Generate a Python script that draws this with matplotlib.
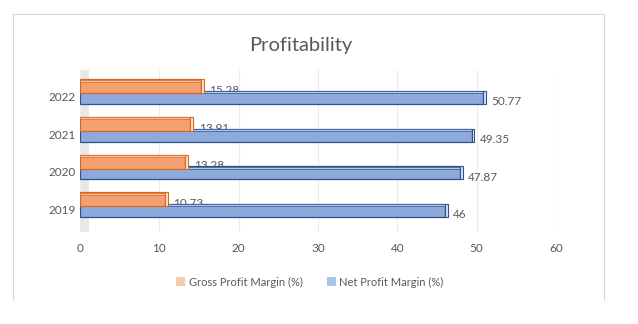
import matplotlib.pyplot as plt
from matplotlib.patches import Patch
import numpy as np

# data
years = ['2019', '2020', '2021', '2022']
gross = [10.73, 13.28, 13.91, 15.28]
net = [46, 47.87, 49.35, 50.77]
gross_lbl = ['10.73', '13.28', '13.91', '15.28']
net_lbl = ['46', '47.87', '49.35', '50.77']
xticks = [0, 10, 20, 30, 40, 50, 60]

plt.rcParams['font.family'] = ['Lato', 'DejaVu Sans']
txt = '#595959'

fig = plt.figure(figsize=(6.38, 3.24), dpi=100)
ax = fig.add_axes([80/638, (324-232)/324, 476/638, 162/324])

y = np.arange(len(years))
h_o, h_b = 0.37, 0.35
yo = y + 0.15
yb = y - 0.15

# side wall of the 3d chart
ax.axvspan(0, 1.1, color='#e8e8e8', lw=0, zorder=1)

# bars (front faces)
ax.barh(yo, gross, height=h_o, color='#F4A172', edgecolor='#D9671F', linewidth=0.9, zorder=3)
ax.barh(yb, net, height=h_b, color='#8EAADB', edgecolor='#2F528F', linewidth=0.9, zorder=2)
# thin lighter top face to fake the 3d look
ax.barh(yo + h_o*0.39, gross, height=h_o*0.14, color='#F8C3A0', edgecolor='#D9671F', linewidth=0.5, zorder=3)
ax.barh(yb + h_b*0.39, net, height=h_b*0.14, color='#B4C7E7', edgecolor='#2F528F', linewidth=0.5, zorder=2)

# end caps
ax.barh(yo, [0.35]*4, left=gross, height=h_o, color='#FBE5D6', edgecolor='#D9671F', linewidth=0.8, zorder=3)
ax.barh(yb, [0.35]*4, left=net, height=h_b, color='#DAE3F3', edgecolor='#2F528F', linewidth=0.8, zorder=2)

for i in range(len(years)):
    ax.annotate(gross_lbl[i], (gross[i], yo[i]), xytext=(6, -3), textcoords='offset points',
                va='center', ha='left', fontsize=8.5, color=txt, zorder=1)
    ax.annotate(net_lbl[i], (net[i], yb[i]), xytext=(6, -3), textcoords='offset points',
                va='center', ha='left', fontsize=8.5, color=txt)

ax.set_xlim(0, 60)
ax.set_ylim(-0.72, 3.58)
ax.set_xticks(xticks)
ax.set_yticks(y - 0.12)
ax.set_yticklabels(years)
ax.tick_params(axis='both', length=0, labelsize=8.5, colors=txt)
ax.tick_params(axis='x', pad=8)
ax.tick_params(axis='y', pad=3)
ax.grid(axis='x', color='#ececec', linewidth=0.8, zorder=0)
for s in ['top', 'right', 'bottom', 'left']:
    ax.spines[s].set_visible(False)

fig.text(301/638, 1 - 45/324, 'Profitability', ha='center', va='center', fontsize=14.5, color=txt)

# chart border (open at bottom)
fig.add_artist(plt.Line2D([13/638, 13/638], [1-300/324, 1-14/324], color='#d9d9d9', lw=0.8))
fig.add_artist(plt.Line2D([604/638, 604/638], [1-300/324, 1-14/324], color='#d9d9d9', lw=0.8))
fig.add_artist(plt.Line2D([13/638, 604/638], [1-14/324, 1-14/324], color='#d9d9d9', lw=0.8))

handles = [Patch(facecolor='#F8CBAD', label='Gross Profit Margin (%)'),
           Patch(facecolor='#A9C4EB', label='Net Profit Margin (%)')]
fig.legend(handles=handles, loc='center', bbox_to_anchor=(310/638, 1 - 282/324), ncol=2,
           frameon=False, fontsize=8, labelcolor=txt, handlelength=0.8, handleheight=0.8,
           handletextpad=0.3, columnspacing=2.2)

fig.savefig('out.png', dpi=100, facecolor='white')
